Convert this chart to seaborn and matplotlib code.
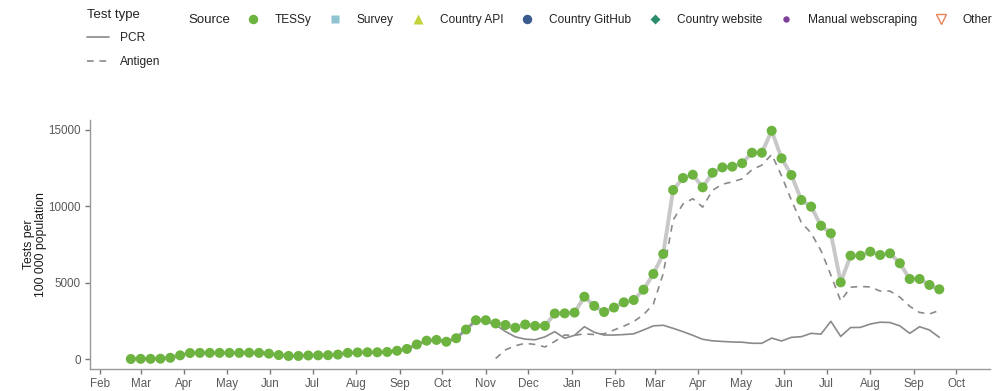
import numpy as np
import pandas as pd
import matplotlib
matplotlib.use("Agg")
import matplotlib.pyplot as plt
import matplotlib.dates as mdates
from matplotlib.lines import Line2D
import seaborn as sns

# Weekly testing rate (tests per 100 000 population), reporting weeks ending on Sundays
first_week = "2020-02-23"

total_tests = [0, 10, 10, 20, 80, 240, 390, 400, 400, 400,
               400, 400, 410, 400, 350, 260, 200, 200, 230, 240,
               250, 290, 400, 430, 440, 440, 460, 540, 660, 950,
               1200, 1250, 1130, 1360, 1930, 2540, 2540, 2330, 2230, 2050,
               2260, 2170, 2170, 2980, 2990, 3040, 4080, 3480, 3080, 3370,
               3710, 3865, 4540, 5570, 6880, 11070, 11855, 12070, 11245, 12200,
               12550, 12600, 12820, 13510, 13510, 14950, 13145, 12050, 10415, 9980,
               8730, 8230, 5020, 6770, 6770, 7030, 6810, 6920, 6270, 5240,
               5240, 4850, 4565]

pcr_tests = [0, 10, 10, 20, 80, 240, 390, 400, 400, 400,
             400, 400, 410, 400, 350, 260, 200, 200, 230, 240,
             250, 290, 400, 430, 440, 440, 460, 540, 660, 950,
             1200, 1250, 1130, 1360, 1930, 2540, 2500, 2230, 1800, 1450,
             1300, 1260, 1450, 1790, 1360, 1550, 2115, 1750, 1570, 1570,
             1600, 1650, 1900, 2170, 2210, 2010, 1790, 1550, 1290, 1190,
             1150, 1115, 1100, 1030, 1030, 1370, 1180, 1420, 1460, 1680,
             1630, 2470, 1480, 2060, 2070, 2290, 2410, 2390, 2170, 1680,
             2115, 1900, 1420]

# Antigen tests were not reported before November 2020
antigen_tests = [None] * 37 + [
    30, 600, 870, 1030, 950, 790, 1150, 1570, 1550, 1650,
    1600, 1650, 1900, 2150, 2450, 2900, 3600, 5600, 9100, 10150,
    10500, 9950, 11050, 11450, 11600, 11800, 12400, 12700, 13400, 12000,
    10400, 8950, 8250, 7100, 5500, 3800, 4700, 4750, 4720, 4450,
    4450, 4050, 3450, 3050, 2950, 3180]

source_labels = ["TESSy", "Survey", "Country API", "Country GitHub",
                 "Country website", "Manual webscraping", "Other"]
test_type_labels = ["PCR", "Antigen"]

weeks = pd.date_range(first_week, periods=len(total_tests), freq="7D")
df = pd.DataFrame({
    "week": weeks,
    "total": np.array(total_tests, dtype=float),
    "pcr": np.array(pcr_tests, dtype=float),
    "antigen": np.array([np.nan if v is None else v for v in antigen_tests], dtype=float),
})

sns.set_theme(style="white")
plt.rcParams["font.family"] = ["Liberation Sans", "DejaVu Sans"]

GREEN = "#6cb33f"
LINE_GREY = "#8a8a8a"
TOTAL_GREY = "#c8c8c8"
TICK_GREY = "#5a5a5a"

fig = plt.figure(figsize=(9.96, 3.91), dpi=100)
ax = fig.add_axes([90 / 996, 1 - 369 / 391, 900 / 996, 249 / 391])

sns.lineplot(data=df, x="week", y="total", color=TOTAL_GREY, linewidth=2.8,
             estimator=None, legend=False, ax=ax, zorder=2)
sns.lineplot(data=df, x="week", y="pcr", color=LINE_GREY, linewidth=1.2,
             estimator=None, legend=False, ax=ax, zorder=3)
sns.lineplot(data=df.dropna(subset=["antigen"]), x="week", y="antigen",
             color=LINE_GREY, linewidth=1.2, estimator=None, legend=False,
             ax=ax, zorder=3, dashes=False, linestyle=(0, (4, 3.5)))
sns.scatterplot(data=df, x="week", y="total", color=GREEN, s=52,
                edgecolor="none", legend=False, ax=ax, zorder=4)

ax.set_xlim(pd.Timestamp("2020-01-25"), pd.Timestamp("2021-10-25"))
ax.set_ylim(-655, 15655)
ax.set_yticks([0, 5000, 10000, 15000])
ax.xaxis.set_major_locator(mdates.MonthLocator())
ax.xaxis.set_major_formatter(mdates.DateFormatter("%b"))

ax.set_xlabel("")
ax.set_ylabel("Tests per\n100 000 population", fontsize=8.8, color="#1a1a1a",
              labelpad=1, linespacing=1.0)
ax.tick_params(axis="both", which="major", length=3.5, width=1.0,
               color="#777777", labelsize=8.4, labelcolor=TICK_GREY, pad=3,
               bottom=True, left=True)
sns.despine(ax=ax)
for side in ("left", "bottom"):
    ax.spines[side].set_color("#999999")
    ax.spines[side].set_linewidth(1.0)

# Test type legend (line styles)
fs = 8.6
type_handles = [
    Line2D([], [], color=LINE_GREY, linewidth=1.2, linestyle="-"),
    Line2D([], [], color=LINE_GREY, linewidth=1.2, linestyle=(0, (4, 3.5))),
]
leg1 = fig.legend(type_handles, test_type_labels, title="Test type",
                  loc="upper left", bbox_to_anchor=(87 / 996, 1 - 9 / 391),
                  frameon=False, fontsize=fs, title_fontsize=9.5,
                  handlelength=1.85, handletextpad=0.95, labelspacing=0.95,
                  borderpad=0, borderaxespad=0, alignment="left")
for t in leg1.get_texts():
    t.set_color("#222222")
leg1.get_title().set_color("#222222")

# Source legend (markers)
src_handles = [
    Line2D([], [], linestyle="none", marker="o", markersize=6.8,
           markerfacecolor=GREEN, markeredgecolor="none"),
    Line2D([], [], linestyle="none", marker="s", markersize=6.0,
           markerfacecolor="#8fc3d2", markeredgecolor="none"),
    Line2D([], [], linestyle="none", marker="^", markersize=7.0,
           markerfacecolor="#c3d33c", markeredgecolor="none"),
    Line2D([], [], linestyle="none", marker="o", markersize=6.8,
           markerfacecolor="#3b5b8e", markeredgecolor="none"),
    Line2D([], [], linestyle="none", marker="D", markersize=4.6,
           markerfacecolor="#2b8c6e", markeredgecolor="none"),
    Line2D([], [], linestyle="none", marker="o", markersize=4.6,
           markerfacecolor="#7d3f98", markeredgecolor="none"),
    Line2D([], [], linestyle="none", marker="v", markersize=7.5,
           markerfacecolor="none", markeredgecolor="#e9825b",
           markeredgewidth=1.0),
]
leg2 = fig.legend(src_handles, source_labels, loc="center left",
                  bbox_to_anchor=(247 / 996, 1 - 20 / 391), ncol=7,
                  frameon=False, fontsize=fs, handlelength=1.0,
                  handletextpad=1.3, columnspacing=1.52, borderpad=0,
                  borderaxespad=0)
for t in leg2.get_texts():
    t.set_color("#222222")
fig.text(188 / 996, 1 - 20 / 391, "Source", fontsize=9.5, color="#222222",
         ha="left", va="center")

fig.savefig("out.png", dpi=100)
